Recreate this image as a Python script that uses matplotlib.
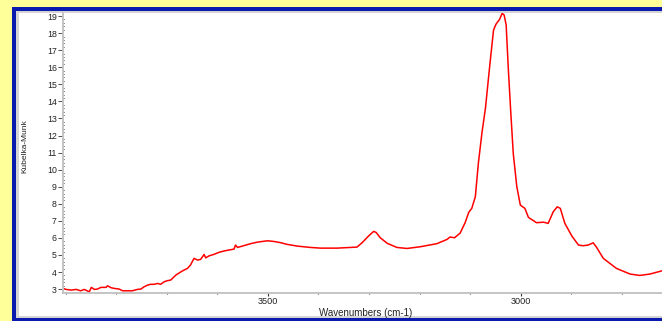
import matplotlib
matplotlib.use("Agg")
import matplotlib.pyplot as plt
from matplotlib.patches import Rectangle
from matplotlib.ticker import MultipleLocator

plt.rcParams['font.family'] = ['Liberation Sans', 'DejaVu Sans']

# spectrum (wavenumber, Kubelka-Munk)
wavenumbers = [3905, 3899, 3889, 3879, 3870, 3863, 3853, 3849, 3843, 3837,
               3830, 3820, 3817, 3810, 3804, 3794, 3787, 3777, 3768, 3758,
               3751, 3745, 3738, 3732, 3725, 3718, 3712, 3705, 3699, 3692,
               3682, 3672, 3666, 3659, 3653, 3646, 3639, 3633, 3626, 3623,
               3616, 3607, 3597, 3587, 3577, 3567, 3564, 3560, 3547, 3534,
               3521, 3501, 3488, 3475, 3462, 3442, 3416, 3396, 3363, 3324,
               3314, 3301, 3291, 3286, 3278, 3264, 3245, 3225, 3199, 3166,
               3146, 3140, 3131, 3120, 3110, 3103, 3097, 3090, 3084, 3077,
               3070, 3061, 3054, 3049, 3042, 3037, 3033, 3029, 3025, 3020,
               3015, 3008, 3001, 2992, 2985, 2969, 2955, 2946, 2936, 2928,
               2922, 2913, 2899, 2886, 2877, 2867, 2857, 2851, 2837, 2811,
               2784, 2765, 2745, 2721]
km = [3.04, 2.98, 2.94, 2.98, 2.90, 2.98, 2.84, 3.10, 2.98, 3.00,
      3.10, 3.10, 3.19, 3.08, 3.04, 3.00, 2.90, 2.90, 2.90, 2.98,
      3.00, 3.13, 3.23, 3.28, 3.28, 3.33, 3.28, 3.43, 3.49, 3.53,
      3.82, 4.01, 4.11, 4.21, 4.41, 4.80, 4.70, 4.74, 5.03, 4.83,
      4.95, 5.03, 5.15, 5.23, 5.29, 5.34, 5.58, 5.44, 5.55, 5.66,
      5.75, 5.83, 5.79, 5.72, 5.62, 5.52, 5.44, 5.40, 5.40, 5.46,
      5.71, 6.11, 6.38, 6.32, 6.01, 5.68, 5.44, 5.38, 5.48, 5.66,
      5.91, 6.05, 6.01, 6.28, 6.90, 7.50, 7.73, 8.41, 10.37, 12.13,
      13.60, 16.23, 18.18, 18.53, 18.81, 19.16, 19.06, 18.47, 16.03, 13.40,
      10.95, 9.00, 7.92, 7.73, 7.20, 6.89, 6.92, 6.85, 7.53, 7.82,
      7.73, 6.85, 6.10, 5.58, 5.54, 5.58, 5.71, 5.48, 4.80, 4.21,
      3.88, 3.80, 3.88, 4.07]

W, H = 662, 321
fig = plt.figure(figsize=(W / 100, H / 100), dpi=100, facecolor='#FFFF99')

def px_rect(x0, y0, x1, y1, color):
    # rectangle given in pixels from the top left corner
    r = Rectangle((x0 / W, 1 - y1 / H), (x1 - x0) / W, (y1 - y0) / H,
                  transform=fig.transFigure, facecolor=color,
                  edgecolor='none', zorder=-10)
    fig.patches.append(r)

px_rect(12, 7, 680, 330, '#0A1AAE')
px_rect(16, 11, 680, 318, '#D4D4D4')
px_rect(19, 13, 680, 316, 'white')

# axes box in pixels: left 63, right 662, top 13, bottom 293
ax = fig.add_axes([63 / W, 1 - 293 / H, (662 - 63) / W, (293 - 13) / H])
ax.set_facecolor('none')
ax.plot(wavenumbers, km, color='#FF0000', lw=1.1)

ax.set_xlim(3905, 2721)
ax.set_ylim(2.77, 19.18)

for s in ['top', 'right']:
    ax.spines[s].set_visible(False)
for s in ['left', 'bottom']:
    ax.spines[s].set_color('#C4C4C4')
    ax.spines[s].set_linewidth(1.4)

ax.xaxis.set_major_locator(MultipleLocator(500))
ax.xaxis.set_minor_locator(MultipleLocator(100))
ax.yaxis.set_major_locator(MultipleLocator(1))
ax.yaxis.set_minor_locator(MultipleLocator(0.2))

ax.tick_params(axis='x', which='major', direction='out', length=2.2, width=0.8,
               color='#333333', labelsize=6.6, labelcolor='#222222', pad=1)
ax.tick_params(axis='x', which='minor', direction='inout', length=1.5, width=0.8,
               color='#333333')
ax.tick_params(axis='y', which='major', direction='out', length=3.6, width=0.6,
               color='#333333', labelsize=6.3, labelcolor='#222222', pad=0.8)
ax.tick_params(axis='y', which='minor', direction='inout', length=1.4, width=0.7,
               color='#222222')

ax.set_xlabel('Wavenumbers (cm-1)', fontsize=7, color='#222222')
ax.xaxis.set_label_coords((366 - 63) / 599, (293 - 308) / 280)
ax.set_ylabel('Kubelka-Munk', fontsize=6, color='#222222')
ax.yaxis.set_label_coords((28 - 63) / 599, (293 - 146) / 280)

fig.savefig('out.png', dpi=100, facecolor=fig.get_facecolor())
